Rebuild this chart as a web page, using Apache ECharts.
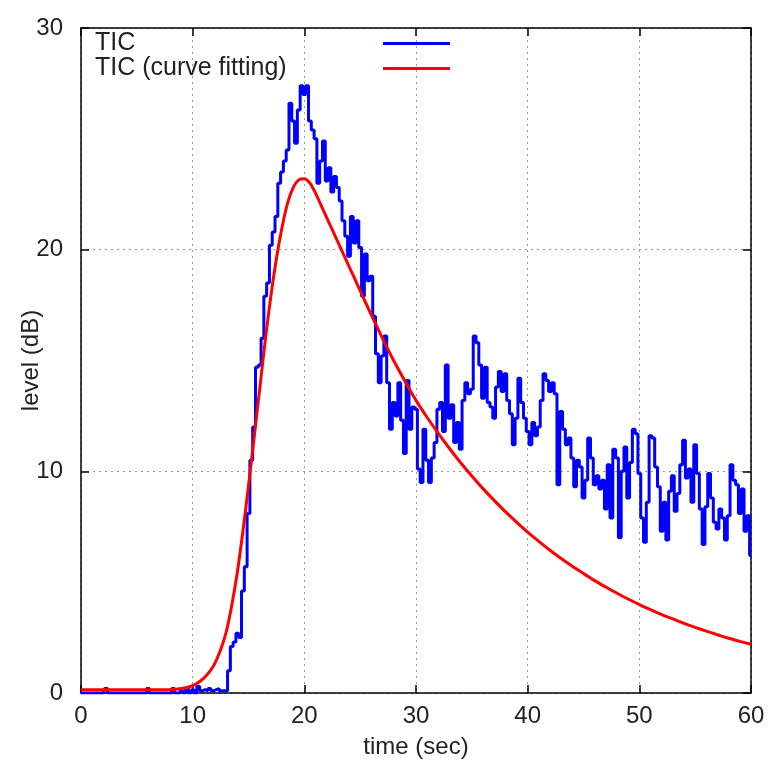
<!DOCTYPE html>
<html>
<head>
<meta charset="utf-8">
<script src="https://cdn.jsdelivr.net/npm/echarts@6/dist/echarts.min.js"></script>
<style>
html,body{margin:0;padding:0;background:#fff;}
#chart{width:768px;height:767px;}
</style>
</head>
<body>
<div id="chart"></div>
<script>
// ---- data ----
var seriesNames = ['TIC', 'TIC (curve fitting)'];
var xTicks = [0, 10, 20, 30, 40, 50, 60];
var yTicks = [0, 10, 20, 30];

// measured TIC, sampled every 0.25 s starting at t = 0 (groups of 4 = 1 second)
var ticStep = 0.25;
var ticValues = [
  // 0 - 4.75
  0,0,0,0, 0,0,0,0, 0,0.2,0,0, 0,0,0,0, 0,0,0,0,
  // 5 - 9.75
  0,0,0,0, 0.2,0,0,0, 0,0,0,0, 0,0.2,0,0, 0.1,0,0.2,0,
  // 10 - 12.75
  0.15,0,0.3,0.1, 0.15,0.1,0.2,0.1, 0.15,0.2,0.1,0.1,
  // 13 - 17.75
  0.1,1.0,2.1,2.3, 2.7,2.5,4.6,5.7, 8.1,10.5,12.0,14.7, 14.8,16.0,17.9,18.5, 20.2,20.8,21.5,23.0,
  // 18 - 22.75
  23.5,24.0,24.5,26.6, 25.8,24.8,26.3,27.4, 27.0,27.4,25.8,25.4, 25.0,23.0,24.0,24.9, 23.1,23.7,22.6,23.3,
  // 23 - 27.75
  22.8,22.2,21.3,20.6, 19.7,21.5,20.3,21.3, 20.1,17.9,19.8,18.6, 18.8,17.0,15.3,14.0, 15.2,16.1,14.0,11.9,
  // 28 - 32.75
  13.1,12.5,14.0,12.3, 10.8,14.1,11.9,12.9, 12.8,10.1,9.5,11.9, 10.5,9.5,10.6,11.3, 12.8,13.1,11.8,14.8,
  // 33 - 37.75
  12.4,13.0,11.3,12.2, 11.0,13.2,14.0,13.5, 13.7,16.1,15.8,14.8, 13.3,14.7,13.1,12.9, 12.4,13.8,14.5,13.6,
  // 38 - 42.75
  14.4,13.2,12.6,11.2, 12.4,14.2,13.1,12.4, 11.8,11.2,12.2,11.6, 12.0,13.2,14.4,14.1, 13.6,14.0,13.5,9.4,
  // 43 - 47.75
  12.7,11.9,11.2,11.5, 10.6,9.3,10.5,10.2, 8.8,9.6,11.5,10.6, 9.4,9.8,9.2,9.6, 8.3,10.3,7.9,11.0,
  // 48 - 52.75
  10.6,7.0,10.0,11.1, 8.8,10.4,11.9,11.7, 9.9,7.9,6.8,8.6, 11.6,11.5,10.2,9.3, 7.3,8.6,6.9,9.1,
  // 53 - 57.75
  9.8,8.2,9.0,10.3, 11.4,9.7,10.1,8.6, 11.2,9.9,8.3,6.7, 8.4,9.9,8.8,7.7, 7.4,8.3,7.9,6.9,
  // 58 - 60
  8.0,10.3,9.6,9.4, 8.1,9.2,7.3,8.0, 6.2
];

// fitted curve
var fitTimes = [0,1,2,3,4,5,6,7,8,8.5,9,9.5,10,10.5,11,11.5,12,12.5,13,13.5,14,14.5,15,15.5,16,16.5,17,17.5,18,18.5,19,19.5,20,20.5,21,21.5,22,22.5,23,23.5,24,24.5,25,25.5,26,27,28,29,30,31,32,33,34,35,36,37,38,39,40,41,42,43,44,45,46,47,48,49,50,51,52,53,54,55,56,57,58,59,60];
var fitValues = [0.15,0.15,0.15,0.15,0.15,0.15,0.15,0.15,0.15,0.17,0.2,0.25,0.33,0.47,0.67,0.95,1.35,1.95,2.75,3.95,5.45,7.3,9.35,11.5,13.7,15.9,17.9,19.6,21.0,22.1,22.8,23.15,23.2,23.0,22.55,22.0,21.45,20.9,20.35,19.8,19.25,18.7,18.15,17.6,17.05,16.0,15.0,14.08,13.2,12.43,11.71,11.03,10.39,9.79,9.22,8.69,8.18,7.71,7.26,6.84,6.44,6.07,5.72,5.39,5.07,4.78,4.5,4.24,3.99,3.76,3.54,3.34,3.14,2.96,2.79,2.63,2.47,2.33,2.2];

// ---- build ----
var ticData = ticValues.map(function (v, i) { return [i * ticStep, v]; });
var fitData = fitTimes.map(function (t, i) { return [t, fitValues[i]]; });

var FONT = '"Liberation Sans", Arial, sans-serif';
var TXT = '#222';
var FS = 24;
var gridLine = { show: true, lineStyle: { color: '#999', type: [2, 4], width: 1 } };
var frame = { show: true, onZero: false, lineStyle: { color: '#000', width: 1.5 } };
var ticks = { show: true, inside: true, length: 8, lineStyle: { color: '#000', width: 1.5 } };

var chart = echarts.init(document.getElementById('chart'), null, { renderer: 'canvas' });
chart.setOption({
  animation: false,
  backgroundColor: '#fff',
  grid: { left: 81, right: 17, top: 28, bottom: 74, containLabel: false },
  legend: {
    orient: 'vertical',
    left: 95,
    top: 31,
    align: 'right',
    padding: 0,
    itemGap: 0,
    itemWidth: 67,
    itemHeight: 3,
    data: [
      { name: seriesNames[0], icon: 'rect' },
      { name: seriesNames[1], icon: 'rect' }
    ],
    formatter: '{a|{name}}',
    textStyle: {
      fontFamily: FONT, fontSize: 25, color: TXT,
      rich: { a: { fontFamily: FONT, fontSize: 25, lineHeight: 25, color: TXT, width: 283, align: 'left' } }
    },
    selectedMode: false
  },
  xAxis: [
    {
      type: 'value', min: xTicks[0], max: xTicks[xTicks.length - 1], interval: 10,
      name: 'time (sec)', nameLocation: 'middle', nameGap: 42, nameMoveOverlap: false,
      nameTextStyle: { fontFamily: FONT, fontSize: FS, color: TXT },
      axisLine: frame, axisTick: ticks,
      axisLabel: { fontFamily: FONT, fontSize: FS, color: TXT, margin: 11 },
      splitLine: gridLine
    },
    {
      type: 'value', position: 'top', min: xTicks[0], max: xTicks[xTicks.length - 1], interval: 10,
      axisLine: frame, axisTick: ticks,
      axisLabel: { show: false }, splitLine: { show: false }
    }
  ],
  yAxis: [
    {
      type: 'value', min: yTicks[0], max: yTicks[yTicks.length - 1], interval: 10,
      name: 'level (dB)', nameLocation: 'middle', nameGap: 38, nameRotate: 90, nameMoveOverlap: false,
      nameTextStyle: { fontFamily: FONT, fontSize: FS, color: TXT },
      axisLine: frame, axisTick: ticks,
      axisLabel: { fontFamily: FONT, fontSize: FS, color: TXT, margin: 18 },
      splitLine: gridLine
    },
    {
      type: 'value', position: 'right', min: yTicks[0], max: yTicks[yTicks.length - 1], interval: 10,
      axisLine: frame, axisTick: ticks,
      axisLabel: { show: false }, splitLine: { show: false }
    }
  ],
  series: [
    {
      name: seriesNames[0], type: 'line', data: ticData, step: 'middle',
      showSymbol: false, symbol: 'none',
      lineStyle: { color: '#0000ff', width: 3 }, itemStyle: { color: '#0000ff' },
      z: 2
    },
    {
      name: seriesNames[1], type: 'line', data: fitData, smooth: 0.3,
      showSymbol: false, symbol: 'none',
      lineStyle: { color: '#ff0000', width: 3 }, itemStyle: { color: '#ff0000' },
      z: 3
    }
  ]
});
</script>
</body>
</html>
